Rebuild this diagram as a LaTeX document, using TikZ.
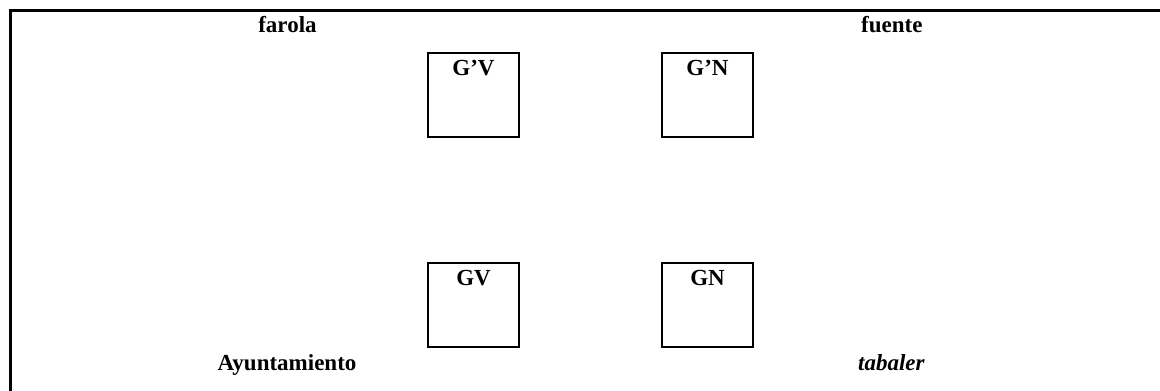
\documentclass[tikz,border=0pt]{standalone}
\usepackage{fontspec}
\setmainfont{Liberation Serif}
\begin{document}
\begin{tikzpicture}[x=1pt,y=-1pt,
  frameline/.style={line width=3pt},
  gbox/.style={draw, line width=2.5pt, inner sep=0pt, outer sep=0pt,
    minimum width=91pt, minimum height=84pt},
  txt/.style={font=\fontsize{23}{27}\selectfont\bfseries, inner sep=0pt},
  glabel/.style={txt, anchor=base}
]
\useasboundingbox (0,0) rectangle (1160,391);

% open frame: top and left edges
\coordinate (tl) at (10.5,10.5);
\coordinate (tr) at (1160,10.5);
\coordinate (bl) at (10.5,391);
\draw[frameline] (tr) -- (tl) -- (bl);

% corner labels
\node[txt, anchor=base] (farola) at (287.5,32) {farola};
\node[txt, anchor=base west] (fuente) at (861,32) {fuente};
\node[txt, anchor=base] (ayunt) at (287,370) {Ayuntamiento};
\node[txt, anchor=base west] (tabaler) at (858,370) {\itshape tabaler};

% boxes
\node[gbox] (gpv) at (473.5,95) {};
\node[gbox] (gpn) at (707.5,95) {};
\node[gbox] (gv)  at (473.5,305) {};
\node[gbox] (gn)  at (707.5,305) {};

\node[glabel] (lgpv) at ([yshift=-22pt]gpv.north) {G’V};
\node[glabel] (lgpn) at ([yshift=-22pt]gpn.north) {G’N};
\node[glabel] (lgv)  at ([yshift=-22pt]gv.north)  {GV};
\node[glabel] (lgn)  at ([yshift=-22pt]gn.north)  {GN};
\end{tikzpicture}
\end{document}
